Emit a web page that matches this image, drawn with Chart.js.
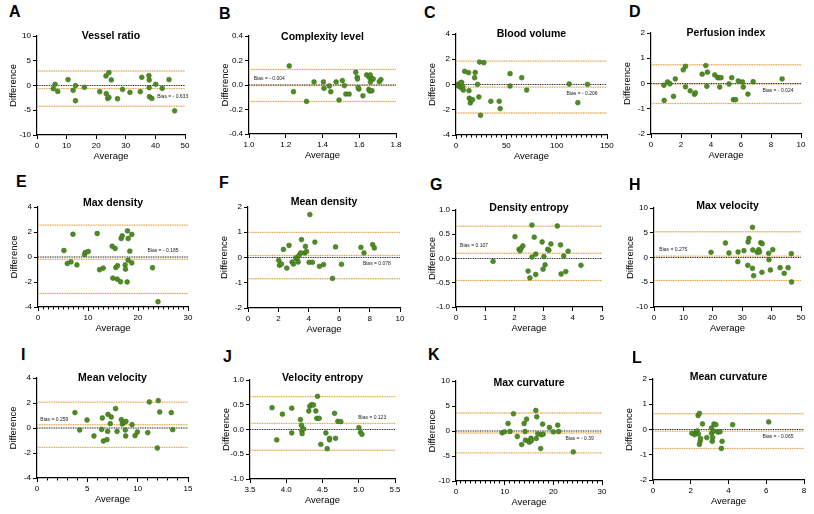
<!DOCTYPE html>
<html>
<head>
<meta charset="utf-8">
<script src="https://cdn.jsdelivr.net/npm/chart.js@4.4.1/dist/chart.umd.min.js"></script>
<style>
  body { margin: 0; background: #fff; }
  #figure { position: relative; width: 814px; height: 514px; overflow: hidden; }
  .letter { position: absolute; font: bold 16px "Liberation Sans", Arial, sans-serif; line-height: 16px; color: #000; }
  #figure canvas { position: absolute; }
</style>
</head>
<body>
<div id="figure"></div>
<script>
// ---- data ----
const panelLetters = ['A', 'B', 'C', 'D', 'E', 'F', 'G', 'H', 'I', 'J', 'K', 'L'];
const panelTitles = ['Vessel ratio', 'Complexity level', 'Blood volume', 'Perfusion index',
  'Max density', 'Mean density', 'Density entropy', 'Max velocity',
  'Mean velocity', 'Velocity entropy', 'Max curvature', 'Mean curvature'];

const biasValues = [-0.633, -0.004, -0.206, -0.024, -0.185, 0.078, 0.107, 0.275, 0.259, 0.123, -0.39, -0.065];
const biasLabels = ['Bias = - 0.633', 'Bias = - 0.004', 'Bias = - 0.206', 'Bias = - 0.024',
  'Bias = - 0.185', 'Bias = 0.078', 'Bias = 0.107', 'Bias = 0.275',
  'Bias = 0.259', 'Bias = 0.123', 'Bias = - 0.39', 'Bias = - 0.065'];
const upperLimits = [2.92, 0.127, 1.85, 0.74, 2.55, 0.995, 0.667, 5.2, 2.07, 0.665, 3.6, 0.625];
const lowerLimits = [-4.18, -0.135, -2.26, -0.79, -2.92, -0.84, -0.453, -4.65, -1.55, -0.42, -4.38, -0.755];

// axis ticks: [min, max, step]
const xTicks = [[0, 50, 10], [1.0, 1.8, 0.2], [0, 150, 50], [0, 10, 2],
  [0, 30, 10], [0, 10, 2], [0, 5, 1], [0, 50, 10],
  [0, 15, 5], [3.5, 5.5, 0.5], [0, 30, 10], [0, 8, 2]];
const xMinorSteps = [null, null, 5, null, 1, null, null, null, 1, null, 1, null];
const yTicks = [[-10, 10, 5], [-0.4, 0.4, 0.2], [-4, 4, 2], [-2, 2, 1],
  [-4, 4, 2], [-2, 2, 1], [-1, 1, 0.5], [-10, 10, 5],
  [-4, 4, 2], [-1, 1, 0.5], [-10, 10, 5], [-2, 2, 1]];
const xDecimals = [0, 1, 0, 0, 0, 0, 0, 0, 0, 1, 0, 0];
const yDecimals = [0, 1, 0, 0, 0, 0, 1, 0, 0, 1, 0, 0];

// [average, difference]
const vesselRatioPts = [[5.5, -0.64], [6.1, 0.24], [7.0, -1.19], [10.5, 1.19], [12.2, -0.98], [13.0, -0.03],
  [13.0, -3.08], [16.0, -0.37], [21.2, -1.25], [23.3, 1.93], [23.4, -1.66], [24.3, 2.61], [23.9, -2.61],
  [24.3, -2.4], [25.1, 1.12], [27.2, -2.68], [28.9, -0.8], [31.4, -1.39], [34.9, -1.25], [35.4, 1.66],
  [37.8, 2.0], [37.9, 1.12], [37.9, -0.44], [38.0, -2.27], [38.8, -2.61], [40.1, 0.24], [42.3, -0.57],
  [44.6, 1.19], [46.5, -5.12]];
const complexityPts = [[1.219, 0.156], [1.242, -0.055], [1.313, -0.134], [1.354, 0.025], [1.405, 0.025],
  [1.408, -0.027], [1.437, -0.008], [1.445, -0.055], [1.474, 0.025], [1.49, -0.123], [1.508, 0.036],
  [1.519, -0.005], [1.527, -0.074], [1.545, -0.074], [1.581, 0.104], [1.589, 0.063], [1.59, 0.049],
  [1.598, -0.033], [1.594, -0.022], [1.62, -0.088], [1.64, 0.082], [1.654, 0.063], [1.66, 0.082],
  [1.667, 0.052], [1.652, -0.036], [1.657, -0.049], [1.669, -0.047], [1.661, 0.025], [1.676, 0.049],
  [1.709, 0.027], [1.718, 0.044]];
const bloodVolumePts = [[1.0, 0.0], [2.3, -0.12], [3.6, -0.09], [4.3, 0.12], [4.9, -0.25], [5.6, 0.17],
  [6.6, -0.15], [7.3, -0.44], [8.6, 1.04], [12.5, 0.94], [12.9, -0.49], [13.2, -1.09], [14.2, -1.46],
  [15.2, -1.25], [16.5, -1.2], [18.5, 0.54], [19.1, 0.96], [21.4, 0.01], [22.7, -0.99], [23.4, 1.78],
  [24.4, -2.44], [27.7, 1.73], [34.6, -1.33], [42.9, -1.33], [43.9, -1.91], [53.7, 0.86], [53.7, -0.12],
  [65.3, 0.54], [70.2, -0.44], [112.4, 0.04], [121.0, -1.44], [130.6, 0.01]];
const perfusionPts = [[0.86, -0.07], [0.88, -0.67], [1.1, 0.06], [1.26, -0.01], [1.5, -0.51], [1.62, 0.18],
  [2.15, 0.54], [2.3, 0.68], [2.3, -0.13], [2.61, -0.29], [2.9, -0.43], [2.96, -0.37], [3.41, 0.37],
  [3.65, 0.71], [3.72, -0.11], [3.76, 0.45], [4.25, 0.34], [4.45, 0.23], [4.56, 0.23], [4.67, 0.23],
  [4.58, -0.14], [5.2, -0.02], [5.38, 0.23], [5.49, -0.64], [5.64, -0.64], [5.82, 0.1], [6.1, 0.06],
  [6.15, -0.14], [6.46, -0.42], [6.81, 0.07], [8.74, 0.18]];
const maxDensityPts = [[5.19, 0.52], [5.86, -0.52], [6.59, -0.39], [6.99, 1.82], [7.78, -0.63], [9.31, 0.2],
  [9.45, 0.36], [10.05, 0.44], [11.84, 1.88], [12.31, -1.02], [13.04, -0.89], [14.84, 0.86], [14.97, -1.69],
  [15.43, 0.68], [15.57, -0.84], [15.9, -0.7], [15.84, -1.77], [16.5, -1.98], [16.63, 1.48], [16.83, 1.69],
  [17.43, -0.63], [17.5, -0.97], [17.83, -2.0], [17.9, 2.09], [18.03, 1.48], [18.03, -0.25], [18.36, 0.47],
  [18.76, 1.8], [18.76, -0.47], [22.9, -0.86], [24.0, -3.58]];
const meanDensityPts = [[2.02, -0.11], [2.07, -0.31], [2.2, -0.26], [2.33, 0.32], [2.55, -0.42], [2.7, 0.48],
  [2.9, -0.18], [2.99, -0.26], [3.14, -0.02], [3.23, -0.07], [3.3, -0.18], [3.36, 0.09], [3.47, 0.18],
  [3.52, 0.71], [3.74, 0.18], [3.78, 0.44], [3.85, 0.24], [4.02, -0.19], [4.07, 1.7], [4.24, -0.19],
  [4.4, 0.61], [4.7, -0.35], [4.97, -0.28], [5.56, -0.83], [5.76, 0.42], [6.15, -0.27], [7.43, 0.4],
  [7.63, 0.18], [8.2, 0.51], [8.31, 0.38]];
const densityEntropyPts = [[1.27, -0.06], [2.02, 0.45], [2.16, 0.19], [2.19, 0.16], [2.23, 0.21], [2.29, 0.26],
  [2.47, -0.26], [2.53, -0.4], [2.6, 0.03], [2.6, 0.69], [2.68, 0.44], [2.73, 0.09], [2.73, -0.33],
  [2.95, 0.34], [2.98, -0.22], [3.01, 0.04], [3.05, -0.13], [3.14, 0.19], [3.18, 0.17], [3.25, 0.3],
  [3.47, 0.67], [3.58, 0.28], [3.6, -0.32], [3.69, 0.05], [3.76, -0.27], [3.84, 0.15], [4.28, -0.14]];
const maxVelocityPts = [[19.4, 1.04], [24.3, 2.93], [25.5, 0.91], [28.6, 1.11], [28.5, -0.84], [30.6, 1.38],
  [31.9, -1.58], [32.0, 3.13], [32.3, 3.87], [33.5, -2.19], [33.5, 6.09], [33.6, 1.52], [33.9, -3.67],
  [35.1, 1.04], [35.6, 1.58], [35.9, 1.11], [36.3, 2.99], [36.7, -3.0], [36.8, 2.79], [39.0, 0.84],
  [39.1, -0.44], [39.6, -2.53], [40.4, 1.58], [42.9, -2.05], [44.3, -3.2], [45.6, -2.05], [46.7, 0.77],
  [46.8, -4.95]];
const meanVelocityPts = [[3.77, 1.23], [4.24, -0.16], [4.97, 0.64], [5.66, -0.64], [6.49, 0.8], [6.42, -0.11],
  [6.59, -1.04], [6.95, -0.93], [7.05, 1.09], [7.02, -0.27], [7.28, 0.35], [7.38, 0.88], [7.81, 1.55],
  [7.95, -0.27], [8.38, 0.67], [8.48, 0.32], [8.61, 0.43], [8.77, -0.16], [8.84, 0.53], [8.81, -0.64],
  [9.44, 0.27], [9.74, -0.61], [9.97, -0.32], [11.0, -0.37], [11.16, 2.08], [11.95, -1.6], [12.05, 2.19],
  [12.19, 1.28], [13.34, 1.23], [13.48, -0.13]];
const velocityEntropyPts = [[3.804, 0.44], [3.869, -0.21], [3.947, 0.31], [4.076, 0.43], [4.076, -0.07],
  [4.196, 0.2], [4.21, 0.084], [4.214, -0.024], [4.219, -0.084], [4.24, 0.01], [4.311, 0.374], [4.325, 0.47],
  [4.348, 0.5], [4.375, 0.495], [4.408, 0.374], [4.422, 0.226], [4.431, 0.67], [4.454, 0.226], [4.477, -0.3],
  [4.546, -0.07], [4.565, -0.387], [4.597, -0.178], [4.597, -0.21], [4.666, 0.327], [4.68, -0.178],
  [4.712, 0.165], [4.753, 0.158], [5.002, 0.037], [5.025, -0.057], [5.044, -0.098]];
const maxCurvaturePts = [[9.48, -0.37], [9.95, -0.17], [10.7, 1.5], [11.1, -0.1], [11.8, 3.44], [12.6, -1.1],
  [13.5, -2.71], [14.0, 1.5], [14.2, -0.1], [14.27, -1.84], [14.5, 2.37], [14.86, -2.04], [15.1, -2.24],
  [15.4, -1.44], [15.5, -1.9], [16.4, 4.11], [16.5, -1.5], [16.6, 2.84], [16.8, -0.57], [17.4, -3.51],
  [17.5, -0.77], [17.8, 1.37], [17.9, -0.64], [19.2, 0.7], [20.0, -0.17], [20.9, 1.17], [21.1, -0.1],
  [24.1, -4.18]];
const meanCurvaturePts = [[2.06, -0.15], [2.2, -0.2], [2.27, -0.11], [2.34, -0.06], [2.39, 0.55], [2.41, -0.18],
  [2.46, 0.64], [2.46, -0.59], [2.5, -0.46], [2.52, -0.36], [2.62, 0.22], [2.85, -0.32], [3.1, -0.15],
  [3.1, 0.06], [3.14, -0.47], [3.16, -0.32], [3.21, -0.07], [3.23, 0.22], [3.33, 0.19], [3.44, -0.1],
  [3.55, -0.09], [3.62, -0.75], [3.66, -0.47], [4.22, 0.19], [6.13, 0.3]];

const panelPoints = [vesselRatioPts, complexityPts, bloodVolumePts, perfusionPts,
  maxDensityPts, meanDensityPts, densityEntropyPts, maxVelocityPts,
  meanVelocityPts, velocityEntropyPts, maxCurvaturePts, meanCurvaturePts];

// ---- layout (pixels) ----
// plot area of each panel: [left, right, top, bottom]
const plotAreas = [[37, 185, 36, 135], [249, 396, 36, 134], [456, 607, 34, 135], [651, 801, 33, 134],
  [38, 188, 207, 307], [248, 400, 207, 308], [456, 602, 210, 307], [654, 801, 208, 307],
  [37, 188, 378, 478], [250, 395, 380, 479], [456, 602, 381, 481], [653, 804, 379, 480]];
const letterAt = [[9, 4], [219, 6], [424, 5], [629, 4], [16, 174], [219, 175], [430, 177], [629, 177],
  [21, 347], [223, 349], [428, 347], [632, 350]];
const titleDy = [0, 1, 0, 0, -4, -5, -2, -2, 0, -2, 2, -2];
// bias text anchor (left edge, middle) in data units
const biasTextAt = [[40.6, -2.3], [1.026, 0.049], [109.8, -0.73], [7.43, -0.29], [21.9, 0.545], [7.56, -0.23],
  [0.14, 0.263], [1.8, 1.58], [0.33, 0.667], [4.993, 0.246], [22.5, -1.5], [5.8, -0.297]];

const FONT = '"Liberation Sans", Arial, Helvetica, sans-serif';
const PAD_L = 37, PAD_T = 10, PAD_R = 10, PAD_B = 30;

const panelText = {
  id: 'panelText',
  afterDatasetsDraw(chart, args, opts) {
    const { ctx, chartArea, scales } = chart;
    ctx.save();
    ctx.fillStyle = '#000';
    ctx.font = 'bold 10.5px ' + FONT;
    ctx.textAlign = 'center';
    ctx.textBaseline = 'middle';
    ctx.fillText(opts.title, (chartArea.left + chartArea.right) / 2, chartArea.top + opts.titleDy);
    ctx.fillStyle = '#222';
    ctx.font = '5px ' + FONT;
    ctx.textAlign = 'left';
    ctx.fillText(opts.bias, scales.x.getPixelForValue(opts.biasAt[0]), scales.y.getPixelForValue(opts.biasAt[1]));
    ctx.restore();
  }
};

function hLine(v, xmin, xmax, color, width, dash) {
  return {
    data: [{ x: xmin, y: v }, { x: xmax, y: v }],
    showLine: true,
    borderColor: color,
    borderWidth: width,
    borderDash: dash,
    pointRadius: 0,
    pointHoverRadius: 0
  };
}

const figure = document.getElementById('figure');

panelTitles.forEach((title, i) => {
  const [left, right, top, bottom] = plotAreas[i];
  const [xmin, xmax, xstep] = xTicks[i];
  const [ymin, ymax, ystep] = yTicks[i];

  const letter = document.createElement('div');
  letter.className = 'letter';
  letter.textContent = panelLetters[i];
  letter.style.left = letterAt[i][0] + 'px';
  letter.style.top = letterAt[i][1] + 'px';
  figure.appendChild(letter);

  const canvas = document.createElement('canvas');
  const w = right - left + PAD_L + PAD_R;
  const h = bottom - top + PAD_T + PAD_B;
  canvas.width = w;
  canvas.height = h;
  canvas.style.left = (left - PAD_L) + 'px';
  canvas.style.top = (top - PAD_T) + 'px';
  canvas.style.width = w + 'px';
  canvas.style.height = h + 'px';
  figure.appendChild(canvas);

  const orange = '#e09a30';
  const underlay = 'rgba(238, 214, 176, 0.7)';
  const datasets = [
    {
      data: panelPoints[i].map(p => ({ x: p[0], y: p[1] })),
      backgroundColor: '#4e8c24',
      borderColor: '#3a6d17',
      borderWidth: 0.6,
      pointRadius: 2.4,
      pointHoverRadius: 2.4
    },
    hLine(0, xmin, xmax, '#222', 1, [1, 1.4]),
    hLine(biasValues[i], xmin, xmax, orange, 1, [1, 1.4]),
    hLine(upperLimits[i], xmin, xmax, orange, 1, [1, 1.4]),
    hLine(lowerLimits[i], xmin, xmax, orange, 1, [1, 1.4]),
    hLine(0, xmin, xmax, 'rgba(160,160,160,0.6)', 1, []),
    hLine(biasValues[i], xmin, xmax, underlay, 1.4, []),
    hLine(upperLimits[i], xmin, xmax, underlay, 1.4, []),
    hLine(lowerLimits[i], xmin, xmax, underlay, 1.4, [])
  ];

  const scales = {
    x: {
      type: 'linear', position: 'bottom', min: xmin, max: xmax, weight: 1,
      afterFit(s) { s.height = PAD_B; },
      border: { color: '#000', width: 1.2 },
      grid: { drawOnChartArea: false, color: '#000', tickLength: 4, lineWidth: 1 },
      ticks: {
        stepSize: xstep, color: '#000', padding: 2, maxRotation: 0, autoSkip: false,
        font: { family: FONT, size: 8 },
        callback: v => v.toFixed(xDecimals[i])
      },
      title: { display: true, text: 'Average', color: '#000', font: { family: FONT, size: 9.5 }, padding: { top: 0, bottom: 3 } }
    },
    y: {
      type: 'linear', position: 'left', min: ymin, max: ymax,
      afterFit(s) { s.width = PAD_L; },
      border: { color: '#000', width: 1.2 },
      grid: { drawOnChartArea: false, color: '#000', tickLength: 4, lineWidth: 1 },
      ticks: {
        stepSize: ystep, color: '#000', padding: 2, autoSkip: false,
        font: { family: FONT, size: 8 },
        callback: v => v.toFixed(yDecimals[i])
      },
      title: { display: true, text: 'Difference', color: '#000', font: { family: FONT, size: 9.5 }, padding: { top: 8, bottom: 0 } }
    }
  };

  if (xMinorSteps[i]) {
    scales.xMinor = {
      type: 'linear', position: 'bottom', min: xmin, max: xmax, weight: 0,
      afterFit(s) { s.height = 0; },
      border: { display: false },
      grid: { drawOnChartArea: false, color: '#000', tickLength: 2.5, lineWidth: 1 },
      ticks: { display: false, stepSize: xMinorSteps[i], autoSkip: false, maxTicksLimit: 500 }
    };
  }

  new Chart(canvas, {
    type: 'scatter',
    data: { datasets: datasets },
    options: {
      responsive: false,
      animation: false,
      events: [],
      layout: { padding: { left: 0, top: PAD_T, right: PAD_R, bottom: 0 } },
      scales: scales,
      plugins: {
        legend: { display: false },
        tooltip: { enabled: false },
        panelText: { title: title, titleDy: titleDy[i], bias: biasLabels[i], biasAt: biasTextAt[i] }
      }
    },
    plugins: [panelText]
  });
});
</script>
</body>
</html>
